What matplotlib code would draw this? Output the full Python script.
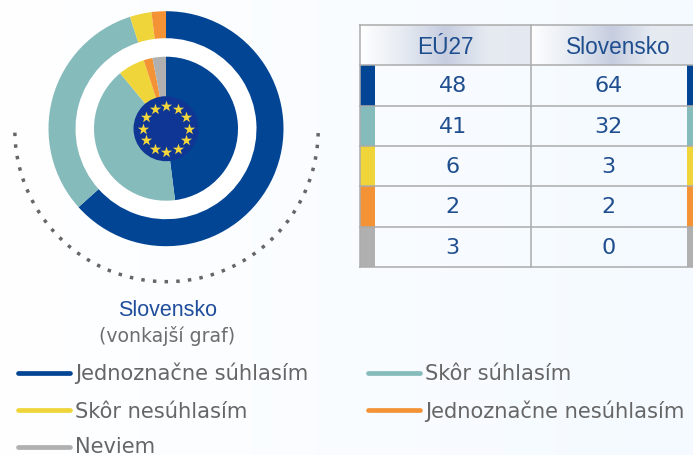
import numpy as np
import matplotlib
matplotlib.use('Agg')
import matplotlib.pyplot as plt
from matplotlib.patches import Circle, Rectangle

# values from the picture
categories = ['Jednoznačne súhlasím', 'Skôr súhlasím', 'Skôr nesúhlasím', 'Jednoznačne nesúhlasím', 'Neviem']
colors = ['#024594', '#86bbbb', '#efd539', '#f39336', '#b0b0b0']
eu27 = [48, 41, 6, 2, 3]
slovensko = [64, 32, 3, 2, 0]
headers = ['EÚ27', 'Slovensko']

W, H = 693, 455
def Y(py):
    return H - py

fig = plt.figure(figsize=(W / 100, H / 100), dpi=100)
ax = fig.add_axes([0, 0, 1, 1])

# background, white to very light blue
grad = np.linspace(0, 1, 256).reshape(1, -1)
bg = matplotlib.colors.LinearSegmentedColormap.from_list('bg', ['#ffffff', '#f4faff'])
ax.imshow(grad, extent=[0, W, 0, H], cmap=bg, aspect='auto', zorder=0)

# donuts
cx, cy = 166, Y(128.7)
ax.pie(slovensko, colors=colors, radius=117.5, center=(cx, cy), startangle=90,
       counterclock=False, frame=True, wedgeprops={'width': 27, 'linewidth': 0, 'zorder': 2})
ax.pie(eu27, colors=colors, radius=72, center=(cx, cy), startangle=90,
       counterclock=False, frame=True, wedgeprops={'linewidth': 0, 'zorder': 2})
ax.add_patch(Circle((cx, cy), 90.5, fc='white', ec='none', zorder=1))

# EU flag
ax.add_patch(Circle((cx, cy), 32.5, fc='#0f3695', ec='none', zorder=3))
a = np.deg2rad(np.arange(0, 360, 30))
ax.scatter(cx + 23 * np.cos(a), cy + 23 * np.sin(a), marker='*', s=72, c='#f5d73c',
           linewidths=0, zorder=4)

# dotted arc under the donut
t = np.deg2rad(np.linspace(181, 359, 200))
ax.plot(166.5 + 151.7 * np.cos(t), Y(130) + 151.7 * np.sin(t), color='#666666', lw=2.5,
        dashes=(1.0, 2.365), dash_capstyle='butt', zorder=2)

ax.text(168, Y(310), 'Slovensko', color='#1f4e9b', fontsize=15.5, family='Liberation Sans',
        ha='center', va='center')
ax.text(167, Y(336), '(vonkajší graf)', color='#6e6e6e', fontsize=13.6, ha='center', va='center')

# table
x0, x1, x2 = 360, 531, 693
rows = [65, 105.7, 146, 186, 226.7, 266.7]
hdr = matplotlib.colors.LinearSegmentedColormap.from_list(
    'hdr', ['#ffffff', '#e6ebf2', '#c6cddf', '#e6ebf2', '#e4e9f1'])
for a_, b_ in [(x0, x1), (x1, x2)]:
    ax.imshow(grad, extent=[a_, b_, Y(65), Y(25)], cmap=hdr, aspect='auto', zorder=1)
for i in range(len(categories)):
    ax.add_patch(Rectangle((x0, Y(rows[i + 1])), 15, rows[i + 1] - rows[i], fc=colors[i], ec='none', zorder=2))
    ax.add_patch(Rectangle((687, Y(rows[i + 1])), 6, rows[i + 1] - rows[i], fc=colors[i], ec='none', zorder=2))
    mid = Y((rows[i] + rows[i + 1]) / 2 + 1)
    ax.text(452.7, mid, str(eu27[i]), color='#1f4e8f', fontsize=16, ha='center', va='center', zorder=4)
    ax.text(608.7, mid, str(slovensko[i]), color='#1f4e8f', fontsize=16, ha='center', va='center', zorder=4)
ax.text(445, Y(47), headers[0], color='#1f4e8f', fontsize=16.3, ha='center', va='center',
        family='Liberation Sans', zorder=4)
ax.text(618, Y(47), headers[1], color='#1f4e8f', fontsize=16.3, ha='center', va='center',
        family='Liberation Sans', zorder=4)
for r in [25] + rows:
    ax.plot([x0 - 1, x2], [Y(r), Y(r)], color='#ababab', lw=1.1, zorder=3, solid_capstyle='butt')
for x in [x0 - 0.5, x1]:
    ax.plot([x, x], [Y(25), Y(rows[-1])], color='#ababab', lw=1.1, zorder=3)

# legend
leg_x = [16, 366, 16, 366, 16]
leg_y = [373, 373, 410, 410, 447]
leg_base = [380.5, 380.5, 417.5, 417.5, 453]
for i, name in enumerate(categories):
    ax.plot([leg_x[i] + 2, leg_x[i] + 54], [Y(leg_y[i]), Y(leg_y[i])], color=colors[i], lw=3.4,
            solid_capstyle='round', zorder=2)
    ax.text(leg_x[i] + 59, Y(leg_base[i]), name, color='#666666', fontsize=15.1, ha='left',
            va='baseline', zorder=2)

ax.set_xlim(0, W)
ax.set_ylim(0, H)
ax.set_aspect('auto')
ax.axis('off')
fig.savefig('out.png', dpi=100)
